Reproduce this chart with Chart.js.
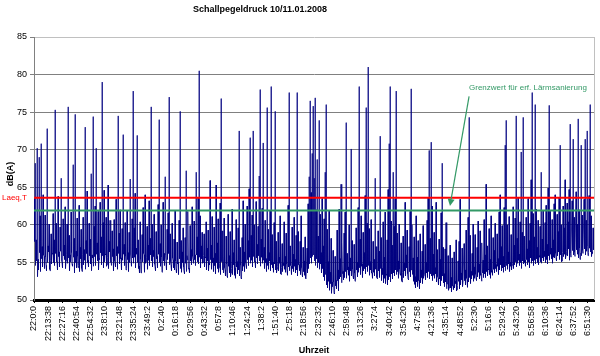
<!DOCTYPE html>
<html><head><meta charset="utf-8">
<script src="https://cdn.jsdelivr.net/npm/chart.js@4"></script>
<style>html,body{margin:0;padding:0;background:#fff}canvas{display:block}</style>
</head><body>
<canvas id="c" width="600" height="356"></canvas>
<script>
const chartTitle = 'Schallpegeldruck 10/11.01.2008';
const yAxisTitle = 'dB(A)';
const xAxisTitle = 'Uhrzeit';
const tickLabels = ['22:0:0','22:13:38','22:27:16','22:40:54','22:54:32','23:8:10','23:21:48','23:35:24','23:49:2','0:2:40','0:16:18','0:29:56','0:43:32','0:57:8','1:10:46','1:24:24','1:38:2','1:51:40','2:5:18','2:18:56','2:32:32','2:46:10','2:59:48','3:13:26','3:27:4','3:40:42','3:54:20','4:7:58','4:21:36','4:35:14','4:48:52','5:2:30','5:16:6','5:29:42','5:43:20','5:56:58','6:10:36','6:24:14','6:37:52','6:51:30'];
const tickStepSeconds = 818;
const sampleStepSeconds = 57.6;
// level read per pixel column (mostly the upper trace, incl. spikes)
const levels = [
63.5,68.2,58.0,70.2,55.4,69.0,61.2,70.8,57.1,64.0,
55.8,61.3,54.6,72.8,57.2,60.1,53.9,58.8,56.2,61.5,
58.0,75.3,60.2,55.1,63.8,56.4,59.7,66.2,55.0,60.8,
57.3,62.4,55.2,60.1,75.7,58.6,56.0,61.7,54.8,68.0,
58.2,74.7,56.5,60.9,54.3,62.6,57.0,59.4,53.8,61.0,
56.7,73.0,57.9,64.5,55.3,60.2,58.1,66.8,56.0,74.4,
59.8,62.5,70.2,57.6,61.8,55.5,63.0,58.4,79.0,60.3,
64.6,56.1,61.0,54.7,65.3,57.8,60.6,55.4,59.2,56.8,
60.7,54.9,63.4,57.1,74.5,58.9,62.0,55.6,59.5,72.0,
57.4,60.3,54.0,61.9,56.3,59.0,66.1,55.2,60.8,77.8,
59.6,64.2,56.9,71.9,58.0,54.5,60.4,53.6,58.7,62.3,
56.0,64.0,55.1,59.8,57.3,63.2,58.2,75.7,60.1,56.6,
61.4,54.4,59.1,55.8,62.7,74.0,57.5,60.0,53.7,63.0,
56.2,66.4,55.0,59.4,61.6,77.0,58.8,54.6,60.2,55.3,
58.1,61.9,54.1,57.7,55.0,60.6,75.1,57.9,56.4,59.6,
53.8,58.3,67.2,55.9,61.8,54.2,59.9,56.7,62.4,55.4,
60.5,56.0,67.0,58.4,63.7,80.5,61.2,57.2,59.0,55.0,
58.8,55.7,60.4,56.9,59.3,54.9,65.9,57.3,61.1,55.6,
59.7,56.2,65.3,57.6,60.8,54.3,62.9,76.8,59.2,55.8,
60.9,54.0,58.5,53.2,61.4,55.9,59.1,53.6,62.1,56.3,
58.0,54.2,60.7,55.1,59.6,72.5,57.0,52.9,58.3,63.2,
56.4,60.1,54.6,62.5,57.9,64.8,71.6,58.6,61.3,72.5,
60.0,55.2,63.1,57.4,59.8,66.5,78.0,58.1,62.2,70.9,
57.0,60.6,55.5,75.6,59.4,56.3,61.9,78.4,58.7,55.0,
60.3,75.1,57.8,54.1,59.0,55.7,61.2,53.4,57.5,54.9,
60.4,55.8,58.9,53.9,62.6,77.6,57.2,54.5,59.7,56.1,
61.0,55.4,58.6,77.6,59.1,54.7,57.8,61.2,53.5,57.0,
55.2,58.4,52.8,56.9,62.8,66.4,76.5,64.3,69.5,75.8,
66.2,76.9,62.0,68.7,58.5,73.9,61.4,56.3,63.5,57.2,
60.8,67.0,76.0,59.4,55.1,61.9,53.7,58.2,52.4,56.6,
50.9,55.8,52.6,59.3,54.0,62.1,55.5,65.4,57.7,53.8,
58.9,61.7,73.6,56.2,54.4,60.0,55.6,70.1,57.9,53.2,
57.4,52.5,59.6,55.0,62.3,78.4,58.1,61.2,54.8,59.0,
56.3,63.9,75.6,60.2,81.0,59.5,55.1,60.7,53.6,57.8,
55.4,66.2,57.1,53.0,59.2,56.5,71.8,58.3,54.2,60.4,
55.7,61.7,53.4,58.0,64.7,70.8,78.4,60.5,57.3,67.0,
59.8,63.5,77.8,58.9,55.2,60.1,53.5,57.6,52.4,58.5,
54.9,63.0,56.0,59.3,52.8,57.1,61.8,78.1,60.0,55.6,
58.4,53.1,61.2,55.7,57.9,52.6,58.8,54.0,56.5,59.9,
53.3,57.4,55.0,60.6,63.7,69.9,58.2,71.0,62.5,56.1,
59.0,54.3,63.0,56.7,52.9,58.1,55.4,61.6,68.2,57.0,
53.5,56.8,60.3,52.2,55.9,51.6,57.3,53.0,55.6,51.9,
56.4,52.5,58.0,51.4,55.2,57.8,63.4,53.6,56.9,52.3,
57.5,54.0,59.3,52.7,61.0,74.3,58.6,53.8,56.2,60.1,
54.4,58.7,52.9,57.0,60.5,54.8,59.2,53.5,57.6,55.3,
60.7,56.0,65.4,57.2,54.1,59.5,55.4,61.2,53.9,58.3,
56.6,60.2,54.7,58.8,55.5,61.7,64.0,57.1,59.9,55.8,
62.3,70.6,73.9,60.0,56.4,61.1,55.0,58.7,54.6,62.4,
57.3,60.9,74.5,58.2,63.6,56.1,60.4,69.7,59.0,74.3,
58.5,55.3,61.0,56.8,63.5,57.9,60.2,66.0,77.6,61.5,
58.4,76.0,62.1,57.0,60.6,55.9,59.8,67.0,58.1,61.9,
56.5,60.3,62.6,57.4,64.9,75.9,61.8,56.9,60.7,58.0,
62.8,64.0,55.6,61.4,59.1,63.7,70.6,60.0,55.2,62.5,
59.6,66.0,56.0,62.9,60.4,64.7,73.4,55.7,63.2,71.4,
61.0,55.8,64.4,60.1,74.1,62.0,55.4,70.6,61.3,56.2,
63.4,71.4,60.6,72.5,55.9,63.9,76.0,61.2,56.4,59.6,
57.0
];
// lower edge of the trace read per pixel column
const minLevels = [
57.8,54.6,55.2,53.1,54.0,56.3,53.8,55.5,54.4,56.0,
54.2,55.7,53.9,55.0,56.4,54.1,55.3,54.8,56.1,55.0,
54.6,56.2,55.1,54.0,55.8,54.4,56.5,55.2,54.3,55.9,
55.4,54.2,56.0,54.9,55.6,53.9,55.1,56.3,54.5,55.7,
53.6,55.0,54.3,55.8,54.6,53.8,55.5,54.2,56.0,54.7,
55.3,54.1,56.2,55.0,54.4,55.9,54.8,53.9,55.6,54.5,
55.8,54.6,56.1,55.2,54.0,55.4,56.3,54.7,55.9,54.3,
55.1,56.0,54.5,55.7,54.2,56.4,55.0,54.6,55.8,53.9,
55.2,54.4,55.9,54.1,56.2,54.8,55.5,54.0,55.3,56.1,
54.6,55.8,54.2,55.4,53.8,55.0,56.0,54.5,55.6,54.9,
55.7,54.3,56.1,55.0,54.2,53.6,55.4,54.0,55.1,56.2,
53.7,54.9,55.6,54.1,55.3,54.6,56.0,55.2,54.4,55.8,
54.8,53.9,55.5,54.3,56.1,55.0,54.5,55.7,53.8,55.2,
54.6,55.9,54.0,55.4,56.2,54.7,55.1,53.9,55.6,54.3,
54.0,55.2,53.6,54.8,53.4,55.5,54.2,53.7,55.0,54.4,
53.5,54.9,53.8,55.3,54.1,53.6,55.2,54.7,55.8,54.9,
55.4,54.6,56.0,55.1,54.8,55.7,54.3,55.5,54.9,55.9,
54.4,55.6,54.0,55.2,53.9,54.7,55.4,54.1,55.0,53.8,
54.6,53.5,55.0,54.2,53.7,54.9,53.4,55.1,54.0,53.6,
54.3,53.2,54.8,53.0,54.5,53.6,53.1,54.2,53.4,54.7,
53.3,52.9,54.4,53.5,54.0,53.2,54.6,52.8,53.9,54.5,
53.8,55.0,54.2,55.4,54.6,55.7,54.9,55.3,54.4,55.8,
55.1,54.3,55.6,54.8,55.9,55.2,54.5,55.7,54.9,55.3,
54.2,55.0,53.8,54.6,54.1,55.2,53.9,54.7,54.3,53.7,
54.8,54.0,53.6,54.5,53.9,54.9,53.5,54.3,53.8,54.6,
54.1,53.7,54.8,53.3,54.4,53.9,54.6,53.4,54.2,53.8,
54.5,53.6,54.0,53.2,54.7,53.9,53.4,54.3,53.1,53.8,
53.3,52.9,52.8,53.6,54.2,54.8,55.6,54.9,55.8,56.0,
55.2,54.6,55.5,54.3,55.0,54.1,54.8,53.6,54.2,53.1,
52.6,53.4,52.0,51.6,52.5,51.3,52.2,50.9,51.8,52.4,
50.8,51.9,51.5,52.6,51.2,52.8,53.1,52.3,53.5,52.7,
53.0,53.8,52.9,54.0,53.3,52.5,53.9,53.2,54.1,52.8,
53.6,52.6,54.0,53.1,53.7,54.3,53.4,54.5,53.0,53.9,
54.2,53.5,54.4,53.8,54.6,53.3,54.0,53.6,52.9,53.7,
53.2,54.1,53.5,52.8,53.9,53.0,54.2,52.6,53.4,52.3,
52.9,52.2,53.3,52.0,52.7,53.1,52.4,53.5,52.8,53.6,
53.2,54.0,53.4,53.8,52.9,54.1,53.3,52.6,53.7,53.0,
53.9,53.2,54.3,53.5,52.7,53.8,53.1,54.0,53.4,52.5,
52.1,51.6,52.4,51.8,52.6,51.5,52.3,53.0,52.2,52.9,
53.4,52.7,53.6,53.0,53.8,52.8,53.5,53.2,52.6,53.3,
52.9,53.5,52.4,53.1,52.0,52.8,51.9,52.6,53.2,52.3,
51.8,52.4,51.5,52.1,51.3,52.0,51.6,51.1,51.9,51.4,
51.6,52.2,51.2,51.9,52.5,51.5,52.0,52.7,51.8,52.3,
52.6,52.0,52.9,51.7,52.4,53.0,52.2,52.8,53.3,52.5,
52.9,53.4,52.6,53.1,53.7,52.8,53.3,52.5,53.6,53.0,
53.5,53.0,53.8,53.2,54.0,53.4,52.9,53.7,53.3,54.1,
53.6,54.2,53.8,54.5,53.4,54.0,54.7,53.9,54.3,53.7,
54.4,53.9,54.6,54.1,54.8,53.8,54.5,54.0,54.9,54.2,
54.7,55.1,54.4,54.9,55.3,54.6,55.0,54.2,55.2,54.8,
55.0,54.5,55.4,54.7,55.1,54.3,55.6,54.9,55.2,54.6,
55.3,54.8,55.5,55.0,54.7,55.7,55.1,54.9,55.6,55.2,
55.8,55.0,55.4,54.8,55.9,55.3,56.1,55.5,54.9,55.7,
55.6,56.2,55.2,55.9,56.4,55.4,56.0,55.1,56.3,55.8,
56.1,55.5,56.5,55.9,56.8,55.3,56.2,55.7,56.6,56.0,
56.4,55.8,56.7,56.1,55.6,56.9,56.3,55.9,56.6,56.2,
56.8,56.0,56.5,57.1,56.3,56.9,56.4,55.8,56.2,56.7,
56.5
];
const laeqLabel = 'Laeq,T';
const laeqValue = 63.6;
const limitLabel = 'Grenzwert für erf. Lärmsanierung';
const limitValue = 61.9;
const yMin = 50, yMax = 85, yStep = 5;
// annotation anchor (data units): label position, arrow start, arrow end
const noteText = { x: 28450, y: 78.3 };
const noteArrowFrom = { x: 25060, y: 77.1 };
const noteArrowTo = { x: 23960, y: 62.5 };

const FONT = 'Arial, "Liberation Sans", sans-serif';
const xMax = (levels.length - 1) * sampleStepSeconds;
const seriesPoints = [];
levels.forEach((v, i) => {
  seriesPoints.push({ x: i * sampleStepSeconds, y: v });
  if (i < levels.length - 1) seriesPoints.push({ x: (i + 0.5) * sampleStepSeconds, y: minLevels[i] });
});

const decor = {
  id: 'decor',
  beforeDatasetsDraw(chart) {
    const { ctx, chartArea } = chart;
    ctx.save();
    ctx.strokeStyle = '#c0c0c0';
    ctx.lineWidth = 1;
    ctx.beginPath();
    ctx.moveTo(Math.round(chartArea.right) + 0.5, chartArea.top);
    ctx.lineTo(Math.round(chartArea.right) + 0.5, chartArea.bottom);
    ctx.stroke();
    ctx.restore();
  },
  afterDraw(chart) {
    const { ctx, scales: { x, y } } = chart;
    ctx.save();
    ctx.fillStyle = '#000';
    ctx.textAlign = 'center';
    ctx.textBaseline = 'middle';
    ctx.font = 'bold 9px ' + FONT;
    ctx.fillText(chartTitle, 260, 10);
    ctx.fillText(xAxisTitle, 314, 351);
    ctx.save();
    ctx.translate(11, 174);
    ctx.rotate(-Math.PI / 2);
    ctx.fillText(yAxisTitle, 0, 0);
    ctx.restore();
    ctx.font = '8px ' + FONT;
    ctx.fillStyle = '#ff0000';
    ctx.textAlign = 'left';
    ctx.fillText(laeqLabel, 2, y.getPixelForValue(laeqValue));
    ctx.fillStyle = '#339966';
    ctx.strokeStyle = '#339966';
    ctx.textAlign = 'center';
    ctx.font = '8px ' + FONT;
    ctx.fillText(limitLabel, x.getPixelForValue(noteText.x), y.getPixelForValue(noteText.y));
    const x1 = x.getPixelForValue(noteArrowFrom.x), y1 = y.getPixelForValue(noteArrowFrom.y);
    const x2 = x.getPixelForValue(noteArrowTo.x), y2 = y.getPixelForValue(noteArrowTo.y);
    const ang = Math.atan2(y2 - y1, x2 - x1);
    const hl = 7, hw = 3.5;
    const bx = x2 - hl * Math.cos(ang), by = y2 - hl * Math.sin(ang);
    ctx.lineWidth = 1.2;
    ctx.beginPath();
    ctx.moveTo(x1, y1);
    ctx.lineTo(bx, by);
    ctx.stroke();
    ctx.beginPath();
    ctx.moveTo(x2, y2);
    ctx.lineTo(bx + hw * Math.sin(ang), by - hw * Math.cos(ang));
    ctx.lineTo(bx - hw * Math.sin(ang), by + hw * Math.cos(ang));
    ctx.closePath();
    ctx.fill();
    ctx.restore();
  }
};

new Chart(document.getElementById('c'), {
  type: 'line',
  data: {
    datasets: [
      { label: laeqLabel, data: [{ x: 0, y: laeqValue }, { x: xMax, y: laeqValue }], borderColor: '#ff0000', borderWidth: 2, pointRadius: 0, order: 1 },
      { label: limitLabel, data: [{ x: 0, y: limitValue }, { x: xMax, y: limitValue }], borderColor: '#339966', borderWidth: 2, pointRadius: 0, order: 2 },
      {
        label: 'Schallpegel', data: seriesPoints, borderColor: '#000080', borderWidth: 0.8, pointRadius: 0, tension: 0, order: 3,
        segment: {
          borderColor(ctx) {
            const hi = Math.max(ctx.p0.parsed.y, ctx.p1.parsed.y);
            return hi > 66 ? 'rgba(0,0,128,0.6)' : '#000080';
          }
        }
      }
    ]
  },
  options: {
    responsive: false,
    animation: false,
    devicePixelRatio: 1,
    layout: { padding: { top: 37, right: 6, left: 0, bottom: 0 } },
    plugins: { legend: { display: false }, tooltip: { enabled: false }, title: { display: false } },
    scales: {
      x: {
        type: 'linear',
        min: 0,
        max: xMax,
        afterBuildTicks(scale) {
          scale.ticks = tickLabels.map((_, k) => ({ value: k * tickStepSeconds }));
        },
        afterFit(scale) { scale.height = 56; scale.paddingLeft = 0; scale.paddingRight = 0; },
        ticks: {
          autoSkip: false, maxRotation: 90, minRotation: 90,
          font: { size: 9, family: FONT }, color: '#000', padding: 3,
          callback(value, index) { return tickLabels[index]; }
        },
        grid: { drawOnChartArea: false, tickLength: 3, color: '#000' },
        border: { color: '#000', width: 3 }
      },
      y: {
        min: yMin, max: yMax,
        afterFit(scale) { scale.width = 34; scale.paddingTop = 0; scale.paddingBottom = 0; },
        ticks: { stepSize: yStep, font: { size: 9, family: FONT }, color: '#000', padding: 3 },
        grid: {
          tickLength: 4,
          tickColor: '#808080',
          color(ctx) {
            const v = ctx.tick && ctx.tick.value;
            if (v === yMax) return '#c0c0c0';
            if (v === yMin) return 'rgba(0,0,0,0)';
            return '#808080';
          }
        },
        border: { color: '#808080', width: 1 }
      }
    }
  },
  plugins: [decor]
});
</script>
</body></html>
